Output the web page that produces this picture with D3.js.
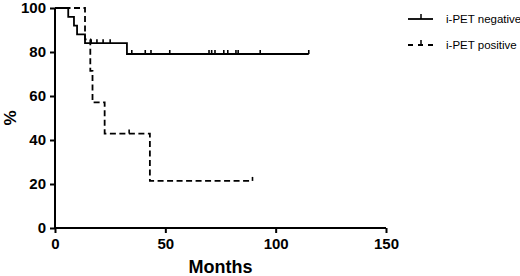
<!DOCTYPE html>
<html>
<head>
<meta charset="utf-8">
<script src="https://cdn.jsdelivr.net/npm/d3@7"></script>
<style>
  body { margin: 0; background: #fff; }
  text { font-family: "Liberation Sans", Arial, sans-serif; }
</style>
</head>
<body>
<script>
// Kaplan-Meier steps
var negTimes = [0, 6, 8.6, 10, 13.6, 32.6, 115];
var negSurv = [100, 96, 92, 88, 84, 79.1, 79.1];
var negCensor = [16.4, 19, 21.8, 25, 34.8, 40.9, 43.5, 52, 69.8, 71, 72.5, 76.5, 78.3, 82, 83, 93, 115];

var posTimes = [0, 13.6, 16, 17, 22.5, 43, 89.5];
var posSurv = [100, 85.7, 71.4, 57.1, 42.9, 21.4, 21.4];
var posCensor = [33.6, 89.5];

var xTicks = [0, 50, 100, 150];
var yTicks = [0, 20, 40, 60, 80, 100];
var seriesNames = ["i-PET negative", "i-PET positive"];

var width = 520, height = 276;

var x = d3.scaleLinear().domain([0, 150]).range([55, 386]);
var y = d3.scaleLinear().domain([0, 100]).range([228, 8]);

var svg = d3.select("body").append("svg")
    .attr("width", width)
    .attr("height", height);

// axes
var xAxis = svg.append("g")
    .attr("transform", "translate(0," + y(0) + ")")
    .call(d3.axisBottom(x).tickValues(xTicks).tickSize(5).tickPadding(5));
var yAxis = svg.append("g")
    .attr("transform", "translate(" + x(0) + ",0)")
    .call(d3.axisLeft(y).tickValues(yTicks).tickSize(5).tickPadding(4));

[xAxis, yAxis].forEach(function(a) {
  a.select(".domain").attr("stroke", "#000").attr("stroke-width", 2);
  a.selectAll(".tick line").attr("stroke", "#000").attr("stroke-width", 2);
  a.selectAll(".tick text")
    .attr("fill", "#000")
    .style("font-size", "15px")
    .style("font-weight", "bold")
    .style("font-family", "'Liberation Sans', Arial, sans-serif");
});
xAxis.select(".domain").attr("d", "M" + x(0) + ",0H" + x(150));
yAxis.select(".domain").attr("d", "M0," + y(0) + "V" + y(100));

// axis titles
svg.append("text")
  .attr("x", (x(0) + x(150)) / 2)
  .attr("y", 273)
  .attr("text-anchor", "middle")
  .style("font-size", "18px")
  .style("font-weight", "bold")
  .text("Months");

svg.append("text")
  .attr("transform", "translate(16," + y(50) + ") rotate(-90)")
  .attr("text-anchor", "middle")
  .style("font-size", "17px")
  .style("font-weight", "bold")
  .text("%");

// step curves
var line = d3.line()
    .x(function(d) { return x(d[0]); })
    .y(function(d) { return y(d[1]); })
    .curve(d3.curveStepAfter);

function survAt(times, surv, t) {
  var s = surv[0];
  for (var i = 0; i < times.length; i++) { if (times[i] <= t) s = surv[i]; }
  return s;
}

function drawCurve(times, surv, censor, dash) {
  svg.append("path")
    .datum(d3.zip(times, surv))
    .attr("fill", "none")
    .attr("stroke", "#000")
    .attr("stroke-width", 1.8)
    .attr("stroke-dasharray", dash)
    .attr("d", line);

  svg.selectAll(null)
    .data(censor)
    .enter().append("line")
    .attr("x1", function(d) { return x(d); })
    .attr("x2", function(d) { return x(d); })
    .attr("y1", function(d) { return y(survAt(times, surv, d)); })
    .attr("y2", function(d) { return y(survAt(times, surv, d)) - 4; })
    .attr("stroke", "#000")
    .attr("stroke-width", 1.6);
}

drawCurve(negTimes, negSurv, negCensor, null);
drawCurve(posTimes, posSurv, posCensor, "6,3.5");

// legend
var legend = svg.append("g");
var legendRows = [{ y: 19, dash: null }, { y: 45, dash: "5,5" }];
legendRows.forEach(function(r, i) {
  legend.append("line")
    .attr("x1", 408).attr("x2", 433)
    .attr("y1", r.y).attr("y2", r.y)
    .attr("stroke", "#000")
    .attr("stroke-width", 1.8)
    .attr("stroke-dasharray", r.dash);
  legend.append("line")
    .attr("x1", 421).attr("x2", 421)
    .attr("y1", r.y).attr("y2", r.y - 5)
    .attr("stroke", "#000")
    .attr("stroke-width", 1.5);
  legend.append("text")
    .attr("x", 446)
    .attr("y", r.y + 4)
    .style("font-size", "11.5px")
    .text(seriesNames[i]);
});
</script>
</body>
</html>
